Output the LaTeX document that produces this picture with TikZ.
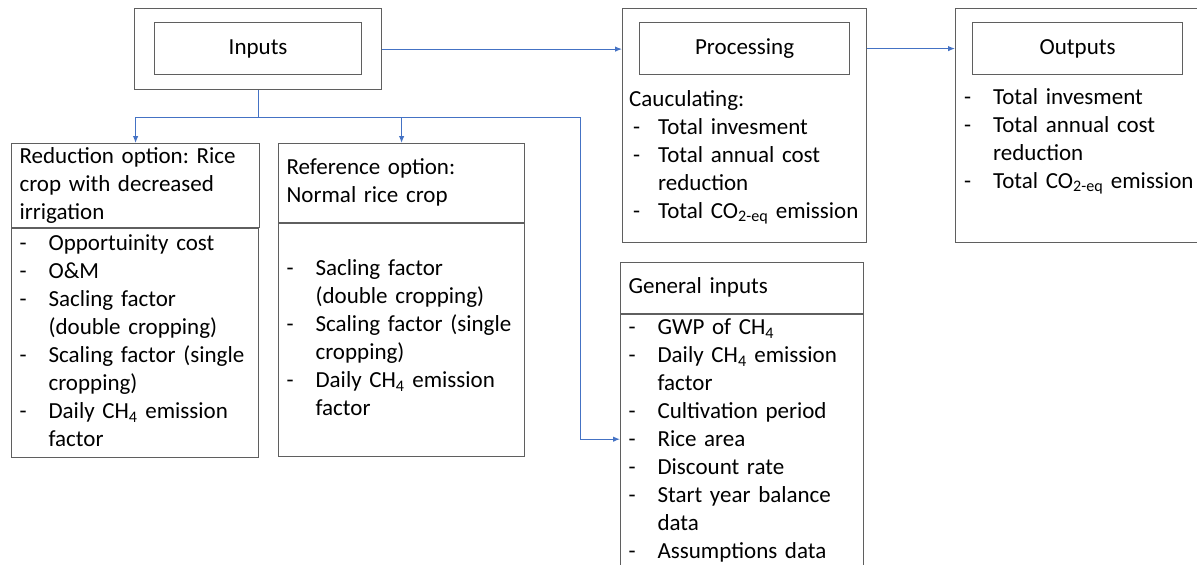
\documentclass[tikz,border=0pt]{standalone}
\usepackage{fontspec}
\setmainfont{Carlito}
\usetikzlibrary{arrows.meta}
\usetikzlibrary{positioning}
\definecolor{boxgray}{HTML}{5F5F5F}
\definecolor{linkblue}{HTML}{4472C4}
\frenchspacing
\newcommand{\itm}[2][0pt]{\noindent\strut\makebox[29pt][l]{\hspace*{#1}-}\mbox{#2}\par}
\newcommand{\cnt}[1]{\noindent\strut\hspace*{29pt}\mbox{#1}\par}

\begin{document}
\begin{tikzpicture}[
		x=1pt, y=-1pt,
		font=\fontsize{23}{28}\selectfont,
		link/.style={draw=linkblue, line width=1.1pt},
		arrow/.style={link, -{Latex[length=7pt,width=5.5pt]}},
		box/.style={draw=boxgray, line width=1.2pt, anchor=north west, inner xsep=8pt, inner ysep=0pt, align=left},
		headbox/.style={box, execute at begin node=\strut, execute at end node=\strut},
		labelbox/.style={draw=boxgray, line width=1.2pt, anchor=north west, inner sep=0pt, minimum height=52pt},
		listtext/.style={anchor=north west, inner sep=0pt, align=left},
	]
	\useasboundingbox (0,0) rectangle (1197,565);

	% top row
	\node[box, minimum width=247pt, minimum height=81pt] (inputsbox) at (134,8) {};
	\node[labelbox, minimum width=207pt, below right=14pt and 20pt of inputsbox.north west] (inputs) {Inputs};

	\node[box, minimum width=244pt, minimum height=234pt] (procbox) at (622,8) {};
	\node[labelbox, minimum width=210pt, below right=14pt and 17pt of procbox.north west] (proc) {Processing};
	\node[listtext, text width=230pt, below right=78.4pt and 7pt of procbox.north west] (calc) {%
		\noindent\strut Cauculating:\par
		\itm[4pt]{Total invesment}
		\itm[4pt]{Total annual cost}
		\cnt{reduction}
		\itm[4pt]{Total CO\textsubscript{2-eq} emission}};

	\node[box, minimum width=250pt, minimum height=234pt] (outbox) at (955,8) {};
	\node[labelbox, minimum width=210pt, below right=14pt and 17pt of outbox.north west] (outputs) {Outputs};
	\node[listtext, text width=230pt, below right=76.4pt and 9pt of outbox.north west] (outs) {%
		\itm{Total invesment}
		\itm{Total annual cost}
		\cnt{reduction}
		\itm{Total CO\textsubscript{2-eq} emission}};

	% option boxes
	\node[headbox, text width=232pt, minimum height=83pt] (redtitle) at (11,143)
		{Reduction option: Rice\\crop with decreased\\irrigation};
	\node[box, text width=231pt, minimum height=229pt] (redlist) at (redtitle.south west) {%
		\itm{Opportuinity cost}
		\itm{O\&M}
		\itm{Sacling factor}
		\cnt{(double cropping)}
		\itm{Scaling factor (single}
		\cnt{cropping)}
		\itm{Daily CH\textsubscript{4} emission}
		\cnt{factor}};

	\node[headbox, text width=230pt, minimum height=79pt] (reftitle) at (278,143)
		{Reference option:\\Normal rice crop};
	\node[box, text width=230pt, minimum height=233pt] (reflist) at (reftitle.south west) {%
		\itm{Sacling factor}
		\cnt{(double cropping)}
		\itm{Scaling factor (single}
		\cnt{cropping)}
		\itm{Daily CH\textsubscript{4} emission}
		\cnt{factor}};

	\node[headbox, text width=227pt, minimum height=51pt] (gentitle) at (620,262) {General inputs};
	\node[box, text width=227pt, text depth=290pt] (genlist) at (gentitle.south west) {%
		\itm{GWP of CH\textsubscript{4}}
		\itm{Daily CH\textsubscript{4} emission}
		\cnt{factor}
		\itm{Cultivation period}
		\itm{Rice area}
		\itm{Discount rate}
		\itm{Start year balance}
		\cnt{data}
		\itm{Assumptions data}};

	% connectors
	\coordinate[below=27pt of inputsbox.south] (split);
	\coordinate[right=322pt of split] (branch);
	\coordinate[below=125pt of genlist.north west] (ricearea);

	\draw[arrow] (inputsbox.east) -- (inputsbox.east -| procbox.west);
	\draw[arrow] (proc.east -| procbox.east) -- (proc.east -| outbox.west);
	\draw[link] (inputsbox.south) -- (split);
	\draw[arrow] (split) -| (redtitle.north);
	\draw[arrow] (split) -| (reftitle.north);
	\draw[arrow] (split) -- (branch) |- (ricearea);
\end{tikzpicture}
\end{document}
